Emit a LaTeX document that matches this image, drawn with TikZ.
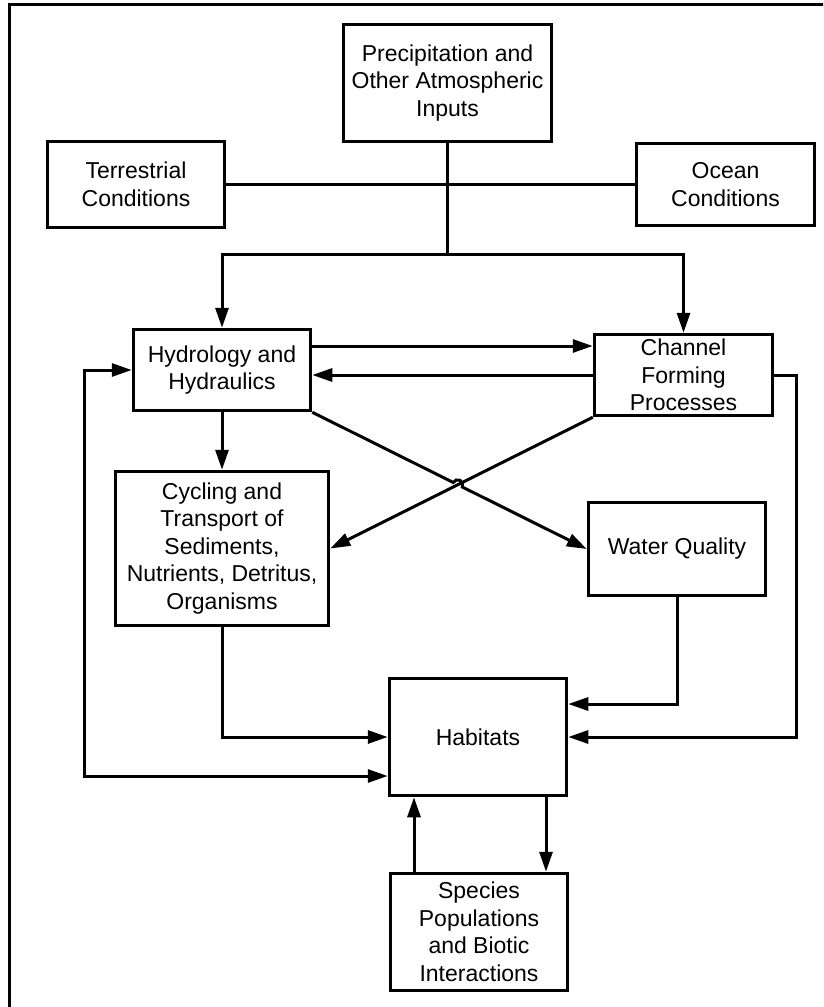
\documentclass[tikz,border=0pt]{standalone}
\usepackage{fontspec}
\setmainfont{Liberation Sans}
\usetikzlibrary{arrows.meta,calc,intersections}

\begin{document}
\begin{tikzpicture}[x=1pt,y=1pt,
  box/.style={draw, line width=3.5pt, rectangle, align=center,
    font=\fontsize{23}{27.5}\selectfont, inner sep=0pt},
  link/.style={line width=3pt},
  arr/.style={link, -{Triangle[length=20pt,width=13pt]}},
  arrboth/.style={link, {Triangle[length=20pt,width=13pt]}-{Triangle[length=20pt,width=13pt]}}]

  \useasboundingbox (0,0) rectangle (823,-1007);
  \clip (0,0) rectangle (823,-1007);

  % outer frame (runs past the right and bottom edges)
  \draw[line width=3pt] (9,-4.5) rectangle (840,-1020);

  % boxes
  \node[box, minimum width=208pt, minimum height=117pt] (pre) at (447.5,-83)
    {Precipitation and\\Other Atmospheric\\Inputs};
  \node[box, minimum width=177pt, minimum height=86pt] (ter) at (136,-184.5)
    {Terrestrial\\Conditions};
  \node[box, minimum width=178pt, minimum height=82pt] (oce) at (725.5,-184.5)
    {Ocean\\Conditions};
  \node[box, minimum width=177pt, minimum height=81pt] (hyd) at (222,-370)
    {Hydrology and\\Hydraulics};
  \node[box, minimum width=178pt, minimum height=81pt] (cha) at (683.5,-375)
    {Channel\\Forming\\Processes};
  \node[box, minimum width=213pt, minimum height=154pt] (cyc) at (222,-548.5)
    {Cycling and\\Transport of\\Sediments,\\Nutrients, Detritus,\\Organisms};
  \node[box, minimum width=177pt, minimum height=93pt] (wq) at (677,-549)
    {Water Quality};
  \node[box, minimum width=177pt, minimum height=117pt] (hab) at (478,-737)
    {Habitats};
  \node[box, minimum width=177pt, minimum height=117pt] (spc) at (479,-932)
    {Species\\Populations\\and Biotic\\Interactions};

  % helper points
  \coordinate (split) at (447.5,-254);
  \coordinate (loopL) at (84,-776);
  \coordinate (loopR) at (796,-737);

  % inputs to the hydrology and channel boxes
  \draw[link] (ter.east) -- (oce.west);
  \draw[link] (pre.south) -- (split);
  \draw[arr] (split) -| (hyd.north);
  \draw[arr] (split) -| (cha.north);

  % hydrology <-> channel forming
  \draw[arr] ([yshift=24pt]hyd.east) -- ([yshift=24pt]hyd.east -| cha.west);
  \draw[arr] (cha.west) -- (cha.west -| hyd.east);

  % feedback loops
  \draw[arrboth] (hyd.west) -| (loopL) -- (loopL -| hab.west);
  \draw[arr] (cha.east) -| (loopR) -- (hab.east);

  % hydrology to cycling
  \draw[arr] (hyd.south) -- (cyc.north);

  % crossing diagonals
  \path[name path=diagA] (hyd.south east) -- (wq.west);
  \path[name path=diagB] (cha.south west) -- (cyc.east);
  \path[name intersections={of=diagA and diagB, by=X}];
  \draw[arr] (cha.south west) -- (cyc.east);
  \draw[arr] (hyd.south east) -- ($(X)!5pt!(hyd.south east)$)
    arc[start angle=153.6, end angle=-26.4, radius=5pt] -- (wq.west);

  % into habitats
  \draw[arr] (cyc.south) |- (hab.west);
  \draw[arr] (wq.south) |- ([yshift=33pt]hab.east);

  % habitats <-> species
  \draw[arr] ([xshift=68pt]hab.south) -- ([xshift=68pt]hab.south |- spc.north);
  \draw[arr] ([xshift=-65pt]spc.north) -- ([xshift=-65pt]spc.north |- hab.south);
\end{tikzpicture}
\end{document}
